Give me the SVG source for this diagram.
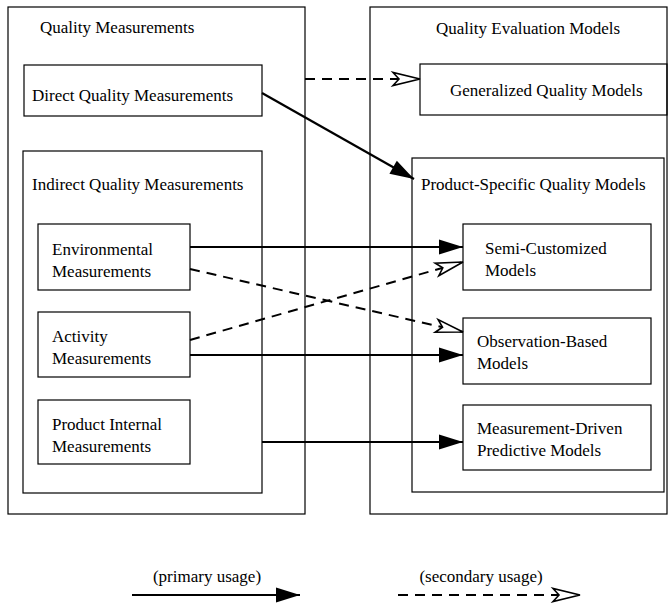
<svg xmlns="http://www.w3.org/2000/svg" width="668" height="603" viewBox="0 0 668 603">
<style>
  .box { fill: none; stroke: #000; stroke-width: 1.2; }
  .t { font-family: "Liberation Serif", "Times New Roman", serif; font-size: 17px; fill: #000; }
  .pri { fill: none; stroke: #000; stroke-width: 2.2; marker-end: url(#solidHead); }
  .sec { fill: none; stroke: #000; stroke-width: 2; stroke-dasharray: 10 7; marker-end: url(#openHead); }
</style>
<defs>
  <marker id="solidHead" markerUnits="userSpaceOnUse" viewBox="-26 -9 28 18" refX="0" refY="0" markerWidth="28" markerHeight="18" orient="auto" overflow="visible">
    <polygon points="0,0 -24,-7.5 -24,7.5" fill="#000"/>
  </marker>
  <marker id="openHead" markerUnits="userSpaceOnUse" viewBox="-30 -9 32 18" refX="0" refY="0" markerWidth="32" markerHeight="18" orient="auto" overflow="visible">
    <polygon points="0,0 -27,-6.5 -21,0 -27,6.5" fill="#fff" stroke="#000" stroke-width="1.6" stroke-linejoin="miter"/>
  </marker>
</defs>
<rect width="668" height="603" fill="#fff"/>

<g id="quality-measurements">
  <rect class="box" x="8" y="7" width="297" height="507"/>
  <text class="t" x="40" y="33">Quality Measurements</text>
</g>
<g id="direct-quality-measurements">
  <rect class="box" x="24" y="65" width="238" height="51"/>
  <text class="t" x="32" y="101">Direct Quality Measurements</text>
</g>
<g id="indirect-quality-measurements">
  <rect class="box" x="23" y="151" width="239" height="342"/>
  <text class="t" x="32" y="190">Indirect Quality Measurements</text>
</g>
<g id="environmental-measurements">
  <rect class="box" x="38" y="224" width="152" height="66"/>
  <text class="t" x="52" y="255">Environmental</text>
  <text class="t" x="52" y="277">Measurements</text>
</g>
<g id="activity-measurements">
  <rect class="box" x="38" y="312" width="152" height="65"/>
  <text class="t" x="52" y="342">Activity</text>
  <text class="t" x="52" y="364">Measurements</text>
</g>
<g id="product-internal-measurements">
  <rect class="box" x="38" y="400" width="152" height="64"/>
  <text class="t" x="52" y="430">Product Internal</text>
  <text class="t" x="52" y="452">Measurements</text>
</g>

<g id="quality-evaluation-models">
  <rect class="box" x="370" y="7" width="297" height="507"/>
  <text class="t" x="436" y="34">Quality Evaluation Models</text>
</g>
<g id="generalized-quality-models">
  <rect class="box" x="420" y="64" width="247" height="51"/>
  <text class="t" x="450" y="96">Generalized Quality Models</text>
</g>
<g id="product-specific-quality-models">
  <rect class="box" x="412" y="158" width="252" height="334"/>
  <text class="t" x="421" y="190">Product-Specific Quality Models</text>
</g>
<g id="semi-customized-models">
  <rect class="box" x="463" y="224" width="188" height="66"/>
  <text class="t" x="485" y="254">Semi-Customized</text>
  <text class="t" x="485" y="276">Models</text>
</g>
<g id="observation-based-models">
  <rect class="box" x="463" y="318" width="188" height="66"/>
  <text class="t" x="477" y="347">Observation-Based</text>
  <text class="t" x="477" y="369">Models</text>
</g>
<g id="measurement-driven-predictive-models">
  <rect class="box" x="463" y="405" width="188" height="65"/>
  <text class="t" x="477" y="434">Measurement-Driven</text>
  <text class="t" x="477" y="456">Predictive Models</text>
</g>

<g id="connectors">
  <line class="sec" x1="305" y1="79" x2="420" y2="79"/>
  <line class="pri" x1="262" y1="93" x2="414" y2="179"/>
  <line class="pri" x1="190" y1="247" x2="463" y2="247"/>
  <line class="sec" x1="190" y1="269" x2="463" y2="332"/>
  <line class="sec" x1="190" y1="340" x2="463" y2="262"/>
  <line class="pri" x1="190" y1="355" x2="463" y2="355"/>
  <line class="pri" x1="262" y1="442" x2="463" y2="442"/>
</g>

<g id="legend">
  <text class="t" x="207" y="582" text-anchor="middle">(primary usage)</text>
  <line class="pri" x1="132" y1="595" x2="300" y2="595"/>
  <text class="t" x="481" y="582" text-anchor="middle">(secondary usage)</text>
  <line class="sec" x1="398" y1="595" x2="580" y2="595"/>
</g>
</svg>
